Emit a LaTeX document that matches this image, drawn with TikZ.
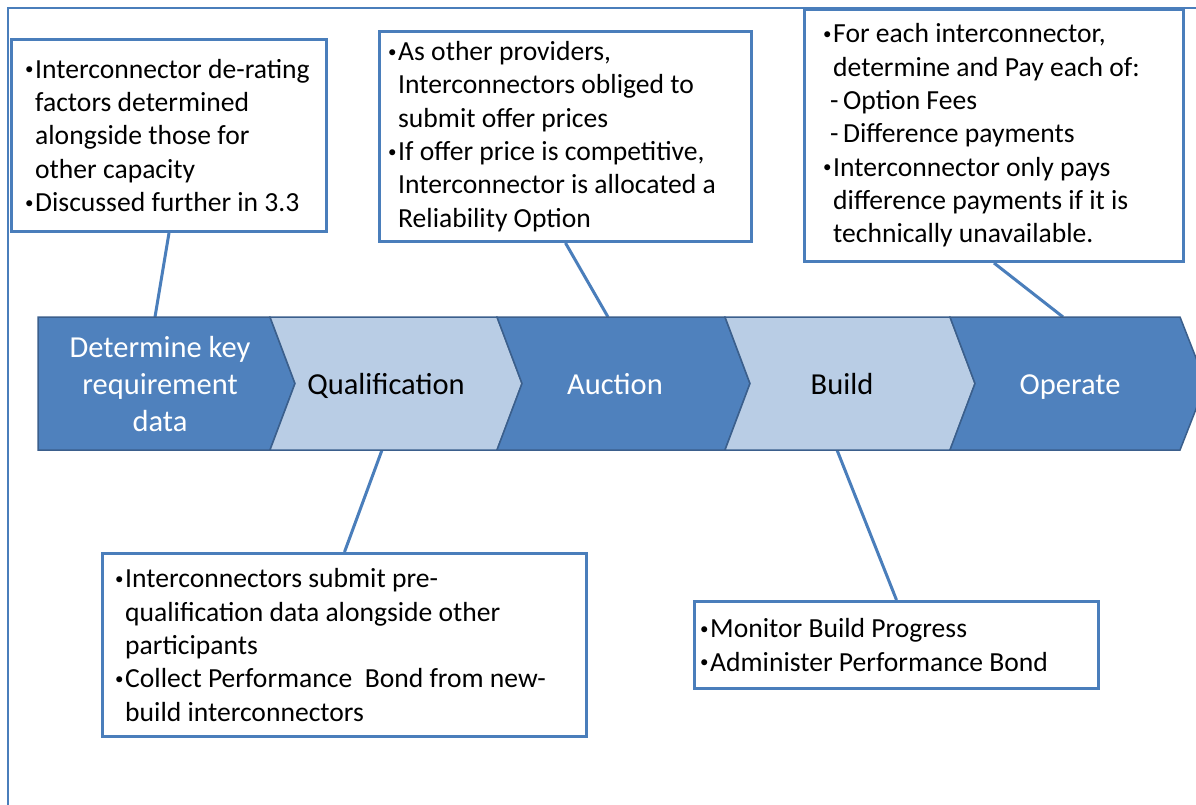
\documentclass[tikz,border=0pt]{standalone}
\usepackage{fontspec}
\setmainfont{Carlito}
\definecolor{darkblue}{HTML}{4F81BD}
\definecolor{lightblue}{HTML}{B9CDE5}
\definecolor{chevline}{HTML}{3B5F8C}
\definecolor{boxline}{HTML}{4A7EBB}
\newcommand\bl{\makebox[10pt][l]{\raisebox{3.5pt}{\fontsize{17}{17}\selectfont •}}}
\newcommand\hi{\hspace*{10pt}}
\newcommand\sub{\hspace*{7pt}\makebox[13pt][l]{-}}
\tikzset{
  cbox/.style={draw=boxline, line width=3pt, fill=white, anchor=north west, inner sep=0pt},
  btext/.style={align=left, inner sep=0pt, anchor=west, text=black,
    font=\fontsize{27.6}{33.3}\selectfont},
  chevdark/.style={fill=darkblue, draw=chevline, line width=1.5pt, line join=miter},
  chevlight/.style={fill=lightblue, draw=chevline, line width=1.5pt, line join=miter},
  chevtext/.style={align=center, inner sep=0pt, font=\fontsize{30.5}{37}\selectfont},
  link/.style={draw=boxline, line width=3pt},
  frame/.style={draw=boxline, line width=2pt}
}
\begin{document}
\begin{tikzpicture}[x=1pt,y=-1pt]
\useasboundingbox (0,0) rectangle (1196,805);
\fill[white] (0,0) rectangle (1196,805);
% outer frame
\draw[frame] (8,812) -- (8,8) -- (1205,8);

% attachment points on the band
\coordinate (a1) at (155,317);
\coordinate (a2) at (382,450);
\coordinate (a3) at (608,317);
\coordinate (a4) at (837,450);
\coordinate (a5) at (1063,317);

% callout boxes
\node[cbox, minimum width=315pt, minimum height=192pt] (b1) at (10,38) {};
\node[btext] (b1t) at ([xshift=15pt]b1.west) {\bl Interconnector de-rating\\
\hi factors determined\\
\hi alongside those for\\
\hi other capacity\\
\bl Discussed further in 3.3};

\node[cbox, minimum width=372pt, minimum height=210pt] (b2) at (378,30) {};
\node[btext] (b2t) at ([xshift=10pt]b2.west) {\bl As other providers,\\
\hi Interconnectors obliged to\\
\hi submit offer prices\\
\bl If offer price is competitive,\\
\hi Interconnector is allocated a\\
\hi Reliability Option};

\node[cbox, minimum width=379pt, minimum height=252pt] (b3) at (803,8) {};
\node[btext] (b3t) at ([xshift=20pt]b3.west) {\bl For each interconnector,\\
\hi determine and Pay each of:\\
\sub Option Fees\\
\sub Difference payments\\
\bl Interconnector only pays\\
\hi difference payments if it is\\
\hi technically unavailable.};

\node[cbox, minimum width=484pt, minimum height=183pt] (b4) at (101,552) {};
\node[btext] (b4t) at ([xshift=14pt]b4.west) {\bl Interconnectors submit pre-\\
\hi qualification data alongside other\\
\hi participants\\
\bl Collect Performance\ \ Bond from new-\\
\hi build interconnectors};

\node[cbox, minimum width=404pt, minimum height=87pt] (b5) at (693,600) {};
\node[btext] (b5t) at ([xshift=7pt]b5.west) {\bl Monitor Build Progress\\
\bl Administer Performance Bond};

% connectors
\draw[link] (b1.south) -- (a1);
\draw[link] (b2.south) -- (a3);
\draw[link] (b3.south) -- (a5);
\draw[link] (b4.north) -- (a2);
\draw[link] (b5.north) -- (a4);

% chevrons
\path[chevdark] (38,317) -- (270,317) -- (295,383.5) -- (270,450) -- (38,450) -- cycle;
\path[chevlight] (270,317) -- (497,317) -- (522,383.5) -- (497,450) -- (270,450) -- (295,383.5) -- cycle;
\path[chevdark] (497,317) -- (725,317) -- (750,383.5) -- (725,450) -- (497,450) -- (522,383.5) -- cycle;
\path[chevlight] (725,317) -- (950,317) -- (975,383.5) -- (950,450) -- (725,450) -- (750,383.5) -- cycle;
\path[chevdark] (950,317) -- (1180,317) -- (1206,383.5) -- (1180,450) -- (950,450) -- (975,383.5) -- cycle;

\node[chevtext, text=white] (c1) at (160,384) {Determine key\\requirement\\data};
\node[chevtext, text=black, anchor=base] (c2) at (386,394) {Qualification};
\node[chevtext, text=white, anchor=base] (c3) at (615,394) {Auction};
\node[chevtext, text=black, anchor=base] (c4) at (842,394) {Build};
\node[chevtext, text=white, anchor=base] (c5) at (1070,394) {Operate};
\end{tikzpicture}
\end{document}
